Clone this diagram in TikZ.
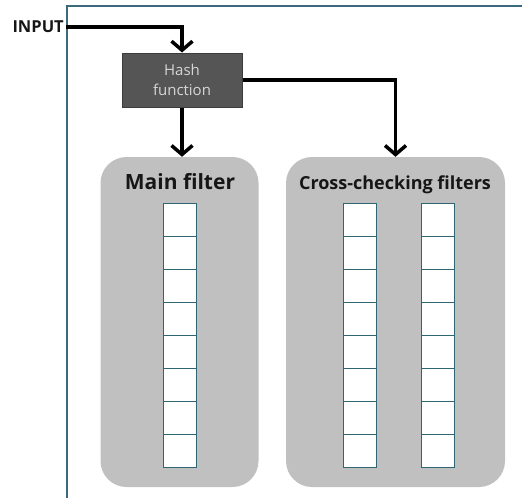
\documentclass[tikz,border=0pt]{standalone}
\usepackage{fontspec}
\setmainfont{Open Sans}
\usetikzlibrary{arrows.meta}
\usetikzlibrary{positioning}

\definecolor{framecol}{HTML}{3A6A7C}
\definecolor{hashfill}{HTML}{555555}
\definecolor{hashtext}{HTML}{D6D6D6}
\definecolor{panelgray}{HTML}{C0C0C0}
\definecolor{cellline}{HTML}{2E6676}
\definecolor{titletext}{HTML}{161616}

\tikzset{
    hashbox/.style={draw=hashfill!70!black, fill=hashfill, text=hashtext, line width=1pt,
        minimum width=120pt, minimum height=54pt, align=center,
        font=\fontsize{15}{20}\selectfont},
    panel/.style={fill=panelgray, rounded corners=26pt, inner sep=0pt},
    cellbox/.style={draw=cellline, fill=white, line width=0.8pt,
        minimum width=33pt, minimum height=33pt, inner sep=0pt},
    conn/.style={line width=3.5pt, -{Straight Barb[length=9pt, width=21pt]}},
}

\begin{document}
\begin{tikzpicture}[x=1pt, y=-1pt]
            \useasboundingbox (0,0) rectangle (522,498);
            
            % Frame
            \draw[framecol, line width=1.2pt] (522,6) -- (67,6) -- (67,498);
            
            % Input label
            \node[anchor=east, inner sep=2pt, text=titletext,
                  font=\bfseries\fontsize{16.5}{18}\selectfont] (input) at (66,27) {INPUT};
            
            % Hash function
            \node[hashbox] (hash) at (182,80) {Hash\\function};
            
            % Filter panels
            \node[panel, minimum width=158pt, minimum height=330pt] (main) at (179.5,322) {};
            \node[panel, minimum width=219pt, minimum height=330pt] (cross) at (395.5,322) {};
            
            \node[text=titletext, font=\bfseries\fontsize{21}{24}\selectfont] (maintitle) at (180,182) {Main filter};
            \node[text=titletext, font=\bfseries\fontsize{18}{22}\selectfont] (crosstitle) at (395,185) {Cross-checking filters};
            
            % Filter cells
            \foreach \i in {0,...,7} {
                \node[cellbox] (m\i) at (180,{219.5+33*\i}) {};
                \node[cellbox] (ca\i) at (360,{219.5+33*\i}) {};
                \node[cellbox] (cb\i) at (437.5,{219.5+33*\i}) {};
            }
            
            % Connections
            \draw[conn] (input.east) -| (hash.north);
            \draw[conn] (hash.south) -- (hash.south |- main.north);
            \draw[conn] (hash.east) -| (cross.north);
            
\end{tikzpicture}
\end{document}
